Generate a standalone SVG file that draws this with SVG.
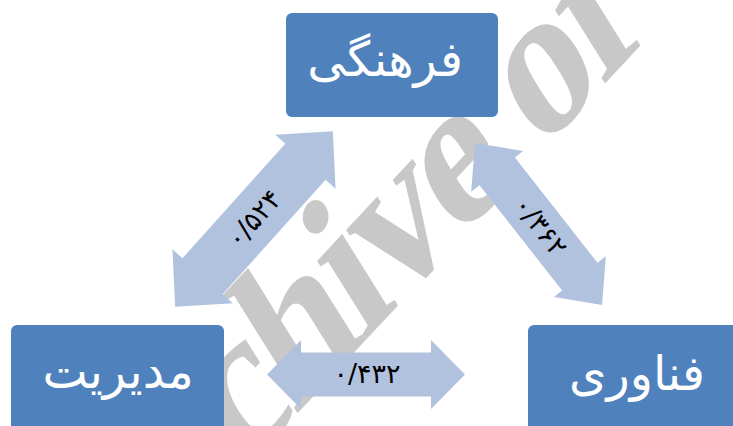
<svg xmlns="http://www.w3.org/2000/svg" width="733" height="426" viewBox="0 0 733 426">
  <style>
    .box { fill: #4F81BD; }
    .ntext { fill: #FFFFFF; font-family: "DejaVu Sans", sans-serif; font-size: 48px; text-anchor: middle; }
    .arrow { fill: #B1C2DE; }
    .lbl { fill: #000000; font-family: "DejaVu Sans", sans-serif; font-size: 27px; text-anchor: middle; }
    .wm { fill: #C8C8C8; font-family: "Liberation Serif", serif; font-size: 195px; font-weight: bold; letter-spacing: -7px; }
  </style>
  <rect width="733" height="426" fill="#FFFFFF"/>
  <g id="watermark" transform="translate(381,268) rotate(-47) translate(0,38) skewX(-15)">
    <text class="wm" x="-248" y="0">chive of</text>
  </g>
  <g id="connectors">
    <g id="edge-modiriyat-farhangi" transform="translate(254,219) rotate(-48.1)">
      <path class="arrow" d="M -118 0 L -77 -40.5 L -77 -27 L 77 -27 L 77 -40.5 L 118 0 L 77 40.5 L 77 27 L -77 27 L -77 40.5 Z"/>
      <text class="lbl" x="0" y="9">۰/۵۲۴</text>
    </g>
    <g id="edge-farhangi-fanavari" transform="translate(538.5,224) rotate(51.9)">
      <path class="arrow" d="M -103 0 L -67 -33 L -67 -22.5 L 67 -22.5 L 67 -33 L 103 0 L 67 33 L 67 22.5 L -67 22.5 L -67 33 Z"/>
      <text class="lbl" x="3" y="9">۰/۳۶۲</text>
    </g>
    <g id="edge-modiriyat-fanavari">
      <path class="arrow" d="M 267 374.5 L 301 340 L 301 352.5 L 431 352.5 L 431 340 L 465 374.5 L 431 409 L 431 396.5 L 301 396.5 L 301 409 Z"/>
      <text class="lbl" x="367" y="383">۰/۴۳۲</text>
    </g>
  </g>
  <g id="node-farhangi">
    <rect class="box" x="286" y="13" width="212" height="104" rx="6"/>
    <text class="ntext" x="385" y="76" direction="rtl">فرهنگی</text>
  </g>
  <g id="node-modiriyat">
    <rect class="box" x="11" y="325" width="213" height="106" rx="6"/>
    <text class="ntext" x="118" y="388" direction="rtl">مدیریت</text>
  </g>
  <g id="node-fanavari">
    <rect class="box" x="528" y="325" width="212" height="106" rx="6"/>
    <text class="ntext" x="637" y="390" direction="rtl">فناوری</text>
  </g>
</svg>
